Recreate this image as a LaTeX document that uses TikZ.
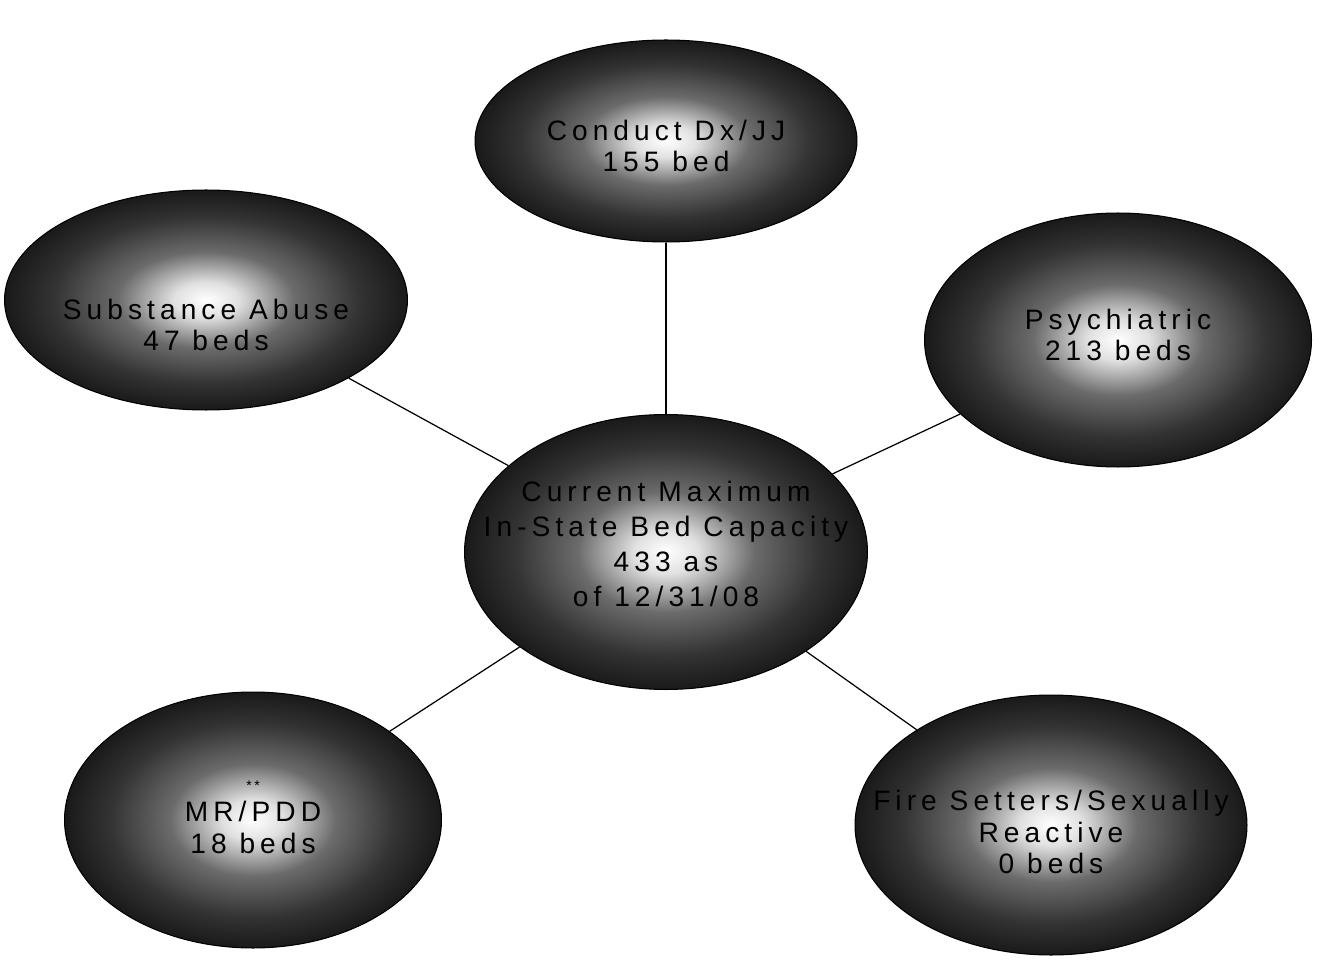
\documentclass[tikz,border=0pt]{standalone}
\usepackage{fontspec}
\setmainfont{Liberation Sans}[LetterSpace=18]
\usetikzlibrary{shapes.geometric}
\pgfdeclareradialshading{bedglow}{\pgfpoint{0bp}{0bp}}{%
    color(0bp)=(white); color(4bp)=(white!88!black); color(11bp)=(black!58);
    color(19bp)=(black!80); color(25bp)=(black!90); color(50bp)=(black!90)}
\begin{document}
\begin{tikzpicture}[
        x=0.02cm, y=-0.02cm,
        bed/.style={
            ellipse,
            draw=black,
            line width=0.6pt,
            shading=bedglow,
            inner sep=0pt
        },
        bedtext/.style={
            align=center,
            text=black,
            font=\fontsize{16}{18}\selectfont
        },
        spoke/.style={
            line width=0.7pt,
            black
        }
    ]
        \useasboundingbox (0,0) rectangle (1324,962);

        % --- Ellipses ---
        \node[bed, minimum width=7.64cm, minimum height=4.04cm] (conduct) at (666,141) {};
        \node[bed, minimum width=8.06cm, minimum height=4.4cm] (subst) at (206,300) {};
        \node[bed, minimum width=7.74cm, minimum height=5.08cm] (psych) at (1118,340) {};
        \node[bed, minimum width=8.06cm, minimum height=5.5cm] (mid) at (666,552) {};
        \node[bed, minimum width=7.54cm, minimum height=5.12cm] (mrpdd) at (253,820) {};
        \node[bed, minimum width=7.84cm, minimum height=5.2cm] (fire) at (1051,825) {};

        % --- Spokes ---
        \draw[spoke] (mid) -- (conduct);
        \draw[spoke] (mid) -- (subst);
        \draw[spoke] (mid) -- (psych);
        \draw[spoke] (mid) -- (mrpdd);
        \draw[spoke] (mid) -- (fire);

        % --- Labels ---
        \node[bedtext] (conduct-txt) at (666,146) {Conduct Dx/JJ\\155 bed};
        \node[bedtext] (subst-txt) at (206,325) {Substance Abuse\\47 beds};
        \node[bedtext] (psych-txt) at (1118,335) {Psychiatric\\213 beds};
        \node[bedtext, font=\fontsize{16}{20}\selectfont] (mid-txt) at (666,544)
            {Current Maximum\\In-State Bed Capacity\\433 as\\of 12/31/08};
        \node[bedtext] (mrpdd-txt) at (253,817) {{\footnotesize **}\\MR/PDD\\18 beds};
        \node[bedtext] (fire-txt) at (1051,832) {Fire Setters/Sexually\\Reactive\\0 beds};
    \end{tikzpicture}
\end{document}
